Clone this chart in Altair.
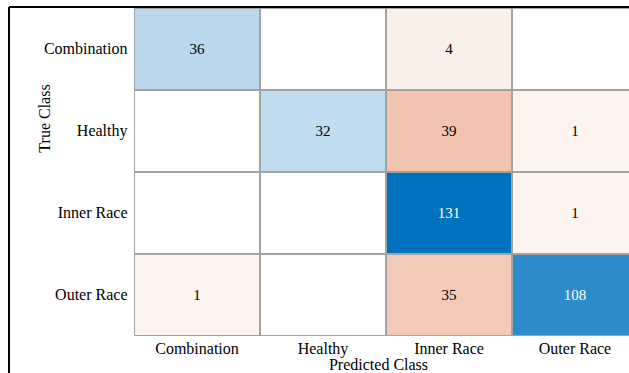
import altair as alt
import pandas as pd

# Class names and confusion counts (rows = true class, columns = predicted class)
true_classes = ["Combination", "Healthy", "Inner Race", "Outer Race"]
pred_classes = ["Combination", "Healthy", "Inner Race", "Outer Race"]
counts = [
    [36, 0, 4, 0],
    [0, 32, 39, 1],
    [0, 0, 131, 1],
    [1, 0, 35, 108],
]

rows = []
for i, t in enumerate(true_classes):
    for j, p in enumerate(pred_classes):
        rows.append({"true": t, "pred": p, "value": counts[i][j], "diag": i == j})
df = pd.DataFrame(rows)

max_count = max(max(r) for r in counts)
FONT = "Liberation Serif"

# Correct predictions get positive tone (blue), errors negative (red)
base = alt.Chart(df).transform_calculate(
    tone="datum.diag ? datum.value : -datum.value"
)

x_enc = alt.X(
    "pred:N",
    sort=pred_classes,
    scale=alt.Scale(domain=pred_classes, range=[0, 504], paddingInner=0, paddingOuter=0),
    axis=alt.Axis(
        title="Predicted Class",
        domain=False, ticks=False, grid=False, labelAngle=0,
        labelPadding=4, labelFont=FONT, labelFontSize=16, labelColor="black",
        titleFont=FONT, titleFontSize=16, titleFontWeight="normal", titleColor="black",
        titleX=244, titleY=33, titleAlign="center", titleBaseline="alphabetic",
    ),
)
y_enc = alt.Y(
    "true:N",
    sort=true_classes,
    scale=alt.Scale(domain=true_classes, paddingInner=0, paddingOuter=0),
    axis=alt.Axis(
        title="True Class",
        domain=False, ticks=False, grid=False,
        labelPadding=7, labelFont=FONT, labelFontSize=16, labelColor="black",
        titleFont=FONT, titleFontSize=16, titleFontWeight="normal", titleColor="black",
        titleAngle=270, titleX=-85, titleY=110, titleAlign="center", titleBaseline="alphabetic",
    ),
)

cells = base.mark_rect(stroke="#a3a3a3", strokeWidth=2, clip=True).encode(
    x=x_enc,
    y=y_enc,
    color=alt.Color(
        "tone:Q",
        scale=alt.Scale(
            domain=[-max_count, -4, -1, 0, max_count],
            range=["#D95319", "#fbefea", "#fdf4f0", "#ffffff", "#0072BD"],
            interpolate="rgb",
        ),
        legend=None,
    ),
)

labels = base.transform_filter("datum.value > 0").mark_text(
    font=FONT, fontSize=15, clip=True
).encode(
    x=alt.X("pred:N", sort=pred_classes),
    y=alt.Y("true:N", sort=true_classes),
    text="value:Q",
    color=alt.condition(
        "datum.diag && datum.value > 80", alt.value("white"), alt.value("black")
    ),
)

# Figure frame: left and top edges
frame_left = alt.Chart(df).mark_rule(color="black", strokeWidth=1.5).encode(
    x=alt.value(-125), y=alt.value(-1), y2=alt.value(370)
)
frame_top = alt.Chart(df).mark_rule(color="black", strokeWidth=1.5).encode(
    x=alt.value(-125), x2=alt.value(500), y=alt.value(-1)
)

chart = (
    alt.layer(cells, labels, frame_left, frame_top)
    .properties(
        width=495,
        height=328,
        autosize=alt.AutoSizeParams(type="none"),
        padding={"left": 134, "top": 8, "right": 0, "bottom": 37},
        background="white",
    )
    .configure_view(strokeWidth=0)
)

chart.save("out.html", embed_options={"renderer": "svg", "actions": False})
